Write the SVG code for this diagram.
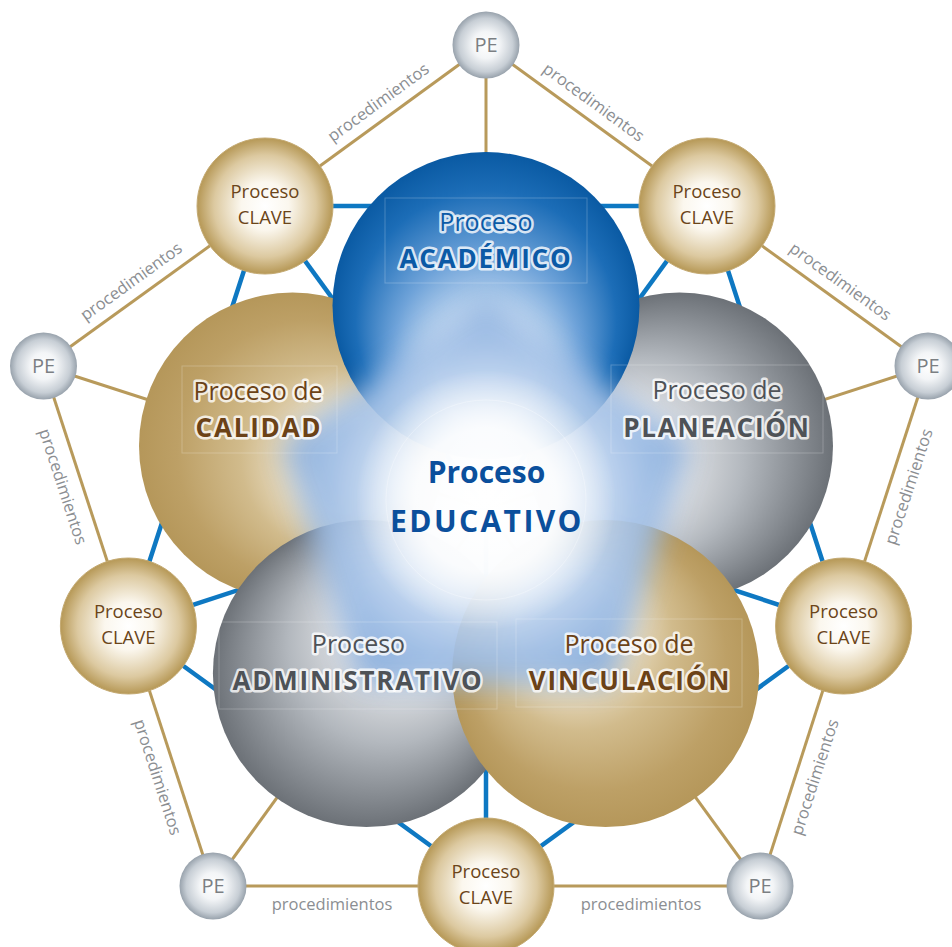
<svg xmlns="http://www.w3.org/2000/svg" width="952" height="947" viewBox="0 0 952 947">
<defs>
<radialGradient id="gClave" cx="0.5" cy="0.5" r="0.5">
<stop offset="0" stop-color="#ffffff"/><stop offset="0.35" stop-color="#fbf7ee"/><stop offset="0.75" stop-color="#dcc9a0"/><stop offset="1" stop-color="#b69856"/>
</radialGradient>
<radialGradient id="gPE" cx="0.5" cy="0.5" r="0.5">
<stop offset="0" stop-color="#ffffff"/><stop offset="0.4" stop-color="#f3f5f7"/><stop offset="0.8" stop-color="#c7ced5"/><stop offset="1" stop-color="#98a2ac"/>
</radialGradient>
<radialGradient id="gAca" gradientUnits="userSpaceOnUse" cx="486" cy="305.5" r="153.5" fx="486" fy="412">
<stop offset="0" stop-color="#ffffff"/><stop offset="0.3" stop-color="#e6effa"/><stop offset="0.6" stop-color="#6fa3d9"/><stop offset="0.85" stop-color="#1c6db7"/><stop offset="1" stop-color="#0a5aa3"/>
</radialGradient>
<radialGradient id="gPla" gradientUnits="userSpaceOnUse" cx="679.5" cy="446" r="153.5" fx="578" fy="479">
<stop offset="0" stop-color="#ffffff"/><stop offset="0.3" stop-color="#f1f2f4"/><stop offset="0.65" stop-color="#b3b8be"/><stop offset="1" stop-color="#6c7177"/>
</radialGradient>
<radialGradient id="gAdm" gradientUnits="userSpaceOnUse" cx="366.4" cy="673.6" r="153.5" fx="429" fy="587">
<stop offset="0" stop-color="#ffffff"/><stop offset="0.3" stop-color="#f1f2f4"/><stop offset="0.65" stop-color="#b3b8be"/><stop offset="1" stop-color="#6c7177"/>
</radialGradient>
<radialGradient id="gCal" gradientUnits="userSpaceOnUse" cx="292.5" cy="446" r="153.5" fx="394" fy="479">
<stop offset="0" stop-color="#ffffff"/><stop offset="0.3" stop-color="#f6f0e3"/><stop offset="0.6" stop-color="#d1bb8c"/><stop offset="0.85" stop-color="#bda066"/><stop offset="1" stop-color="#b5975a"/>
</radialGradient>
<radialGradient id="gVin" gradientUnits="userSpaceOnUse" cx="605.6" cy="673.6" r="153.5" fx="543" fy="587">
<stop offset="0" stop-color="#ffffff"/><stop offset="0.3" stop-color="#f6f0e3"/><stop offset="0.6" stop-color="#d1bb8c"/><stop offset="0.85" stop-color="#bda066"/><stop offset="1" stop-color="#b5975a"/>
</radialGradient>
<radialGradient id="gPent" gradientUnits="userSpaceOnUse" cx="486" cy="500" r="200">
<stop offset="0" stop-color="#ffffff"/><stop offset="0.4" stop-color="#e0ebf8"/><stop offset="0.75" stop-color="#a3c1e7"/><stop offset="1" stop-color="#86acdc"/>
</radialGradient>
<radialGradient id="gGlow" cx="0.5" cy="0.5" r="0.5">
<stop offset="0" stop-color="#ffffff" stop-opacity="1"/><stop offset="0.55" stop-color="#ffffff" stop-opacity="0.85"/><stop offset="1" stop-color="#ffffff" stop-opacity="0"/>
</radialGradient>
<filter id="blur" x="-20%" y="-20%" width="140%" height="140%"><feGaussianBlur stdDeviation="14"/></filter>
</defs>
<style>
.tan{stroke:#b89a5b;stroke-width:3;fill:none}
.blue{stroke:#0e78c2;stroke-width:4.5;fill:none}
.clave{fill:url(#gClave);stroke:#c4aa73;stroke-width:1}
.pe{fill:url(#gPE)}
.ct{font-family:"Open Sans","Noto Sans",sans-serif;font-size:18.5px;fill:#6b4519;text-anchor:middle}
.pt{font-family:"Open Sans","Noto Sans",sans-serif;font-size:20px;fill:#7b7f83;text-anchor:middle}
.proc{font-family:"Open Sans","Noto Sans",sans-serif;font-size:16.5px;fill:#8b8e92;text-anchor:middle;dominant-baseline:central}
.lr{font-family:"Open Sans","Noto Sans",sans-serif;font-size:25px;text-anchor:middle;stroke:#ffffff;stroke-width:5;stroke-opacity:0.8;stroke-linejoin:round;paint-order:stroke}
.lb{font-family:"Open Sans","Noto Sans",sans-serif;font-size:26px;font-weight:bold;letter-spacing:1.8px;text-anchor:middle;stroke:#ffffff;stroke-width:5;stroke-opacity:0.8;stroke-linejoin:round;paint-order:stroke}
.frame{fill:none;stroke:#ffffff;stroke-opacity:0.22;stroke-width:1}
.brown{fill:#6b4217}
.gray{fill:#4e5257}
.blu{fill:#0b5aa6}
</style>
<rect width="952" height="947" fill="#ffffff"/>
<g id="connectors">
<g id="tan-lines">
<line class="tan" x1="486" y1="45" x2="265" y2="206"/>
<line class="tan" x1="486" y1="45" x2="707" y2="206"/>
<line class="tan" x1="43.5" y1="366" x2="265" y2="206"/>
<line class="tan" x1="43.5" y1="366" x2="128.4" y2="626"/>
<line class="tan" x1="213" y1="886" x2="128.4" y2="626"/>
<line class="tan" x1="213" y1="886" x2="486" y2="886"/>
<line class="tan" x1="760" y1="886" x2="486" y2="886"/>
<line class="tan" x1="760" y1="886" x2="843.6" y2="626"/>
<line class="tan" x1="928" y1="366" x2="843.6" y2="626"/>
<line class="tan" x1="928" y1="366" x2="707" y2="206"/>
<line class="tan" x1="486" y1="45" x2="486" y2="509"/>
<line class="tan" x1="43.5" y1="366" x2="486" y2="509"/>
<line class="tan" x1="928" y1="366" x2="486" y2="509"/>
<line class="tan" x1="213" y1="886" x2="486" y2="509"/>
<line class="tan" x1="760" y1="886" x2="486" y2="509"/>
</g>
<g id="blue-lines">
<polygon class="blue" points="265,206 707,206 843.6,626 486,886 128.4,626"/>
<line class="blue" x1="265" y1="206" x2="486" y2="509"/>
<line class="blue" x1="707" y1="206" x2="486" y2="509"/>
<line class="blue" x1="843.6" y1="626" x2="486" y2="509"/>
<line class="blue" x1="128.4" y1="626" x2="486" y2="509"/>
<line class="blue" x1="486" y1="886" x2="486" y2="509"/>
</g>
<g id="labels">
<text class="proc" transform="translate(377.8,101.6) rotate(-36.1)">procedimientos</text>
<text class="proc" transform="translate(594.2,101.6) rotate(36.1)">procedimientos</text>
<text class="proc" transform="translate(130.7,280.8) rotate(-35.8)">procedimientos</text>
<text class="proc" transform="translate(841,280.8) rotate(35.8)">procedimientos</text>
<text class="proc" transform="translate(63.8,486.4) rotate(71.9)">procedimientos</text>
<text class="proc" transform="translate(158.5,776.8) rotate(72)">procedimientos</text>
<text class="proc" transform="translate(907.9,486.4) rotate(-71.9)">procedimientos</text>
<text class="proc" transform="translate(814,776.8) rotate(-72)">procedimientos</text>
<text class="proc" x="332" y="903">procedimientos</text>
<text class="proc" x="641" y="903">procedimientos</text>
</g>
</g>
<g id="big-circles">
<circle id="c-calidad" cx="292.5" cy="446" r="153.5" fill="url(#gCal)"/>
<circle id="c-administrativo" cx="366.4" cy="673.6" r="153.5" fill="url(#gAdm)"/>
<circle id="c-planeacion" cx="679.5" cy="446" r="153.5" fill="url(#gPla)"/>
<circle id="c-vinculacion" cx="605.6" cy="673.6" r="153.5" fill="url(#gVin)"/>
<circle id="c-academico" cx="486" cy="305.5" r="153.5" fill="url(#gAca)"/>
<polygon points="486,298 690,444 612,684 360,684 282,444" fill="url(#gPent)" opacity="0.92" filter="url(#blur)"/>
<circle cx="486" cy="500" r="130" fill="url(#gGlow)"/>
<circle cx="486" cy="500" r="100" fill="none" stroke="#ffffff" stroke-opacity="0.3"/>
</g>
<g id="node-academico">
<rect class="frame" x="385" y="198" width="202" height="85"/>
<text class="lr blu" x="486" y="231">Proceso</text>
<text class="lb blu" x="486" y="268">ACADÉMICO</text>
</g>
<g id="node-calidad">
<rect class="frame" x="182" y="366" width="155" height="87"/>
<text class="lr brown" x="258" y="400">Proceso de</text>
<text class="lb brown" x="259" y="437">CALIDAD</text>
</g>
<g id="node-planeacion">
<rect class="frame" x="611" y="365" width="212" height="88"/>
<text class="lr gray" x="717" y="399">Proceso de</text>
<text class="lb gray" x="717" y="437">PLANEACIÓN</text>
</g>
<g id="node-administrativo">
<rect class="frame" x="219" y="622" width="278" height="87"/>
<text class="lr gray" x="358.5" y="653">Proceso</text>
<text class="lb gray" x="358" y="690">ADMINISTRATIVO</text>
</g>
<g id="node-vinculacion">
<rect class="frame" x="516" y="619" width="226" height="88"/>
<text class="lr brown" x="629" y="653">Proceso de</text>
<text class="lb brown" x="630" y="690">VINCULACIÓN</text>
</g>
<g id="node-educativo">
<text x="486.5" y="483" font-family="Open Sans, Noto Sans, sans-serif" font-size="30px" font-weight="bold" fill="#0b4f9c" text-anchor="middle">Proceso</text>
<text x="487" y="532" font-family="Open Sans, Noto Sans, sans-serif" font-size="30px" font-weight="bold" fill="#0b4f9c" text-anchor="middle" letter-spacing="2.4">EDUCATIVO</text>
</g>
<g id="clave-tl"><circle class="clave" cx="265" cy="206" r="68"/><text class="ct" x="265" y="198">Proceso</text><text class="ct" x="265" y="224">CLAVE</text></g>
<g id="clave-tr"><circle class="clave" cx="707" cy="206" r="68"/><text class="ct" x="707" y="198">Proceso</text><text class="ct" x="707" y="224">CLAVE</text></g>
<g id="clave-r"><circle class="clave" cx="843.6" cy="626" r="68"/><text class="ct" x="843.6" y="618">Proceso</text><text class="ct" x="843.6" y="644">CLAVE</text></g>
<g id="clave-b"><circle class="clave" cx="486" cy="886" r="68"/><text class="ct" x="486" y="878">Proceso</text><text class="ct" x="486" y="904">CLAVE</text></g>
<g id="clave-l"><circle class="clave" cx="128.4" cy="626" r="68"/><text class="ct" x="128.4" y="618">Proceso</text><text class="ct" x="128.4" y="644">CLAVE</text></g>
<g id="pe-top"><circle class="pe" cx="486" cy="45" r="33.5"/><text class="pt" x="486" y="52">PE</text></g>
<g id="pe-left"><circle class="pe" cx="43.5" cy="366" r="33.5"/><text class="pt" x="43.5" y="373">PE</text></g>
<g id="pe-right"><circle class="pe" cx="928" cy="366" r="33.5"/><text class="pt" x="928" y="373">PE</text></g>
<g id="pe-bl"><circle class="pe" cx="213" cy="886" r="33.5"/><text class="pt" x="213" y="893">PE</text></g>
<g id="pe-br"><circle class="pe" cx="760" cy="886" r="33.5"/><text class="pt" x="760" y="893">PE</text></g>
</svg>
